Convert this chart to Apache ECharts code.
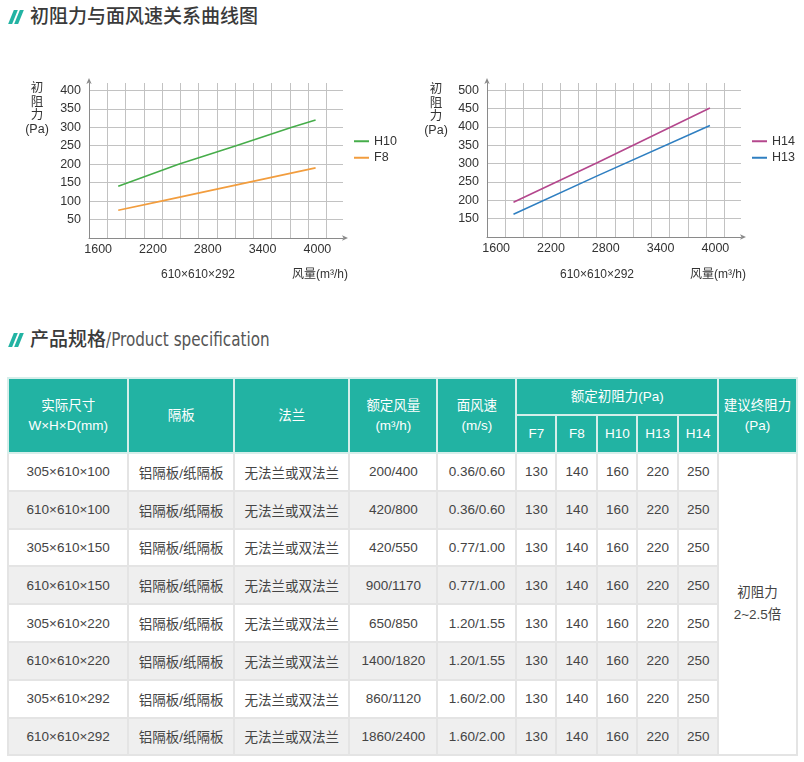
<!DOCTYPE html>
<html><head><meta charset="utf-8">
<script src="https://cdn.jsdelivr.net/npm/echarts@6/dist/echarts.min.js"></script>
<style>
html,body{margin:0;padding:0;background:#fff;}
#page{position:relative;width:804px;height:762px;overflow:hidden;font-family:"Liberation Sans","Noto Sans CJK SC",sans-serif;}
#chart{position:absolute;left:0;top:0;width:804px;height:300px;}
.sec{position:absolute;left:8px;height:24px;line-height:24px;font-family:"Noto Sans CJK SC",sans-serif;font-size:19px;color:#3a3a3a;font-weight:500;white-space:nowrap;}
.bars{display:inline-block;position:relative;width:16px;height:14px;margin-right:6px;vertical-align:-1px;}
.bars i{position:absolute;top:0;width:3.8px;height:14px;background:#22b3a3;transform:skewX(-22deg);}
.bars i:first-child{left:3px}.bars i:last-child{left:9px}
.en{display:inline-block;transform:scaleX(0.89);transform-origin:0 50%;font-family:"Liberation Sans Narrow","DejaVu Sans Condensed",sans-serif;font-weight:400;color:#555;font-size:19px}
#spec{position:absolute;left:7px;top:377px;border-collapse:collapse;table-layout:fixed;width:789px;font-size:13.5px;color:#444;}
#spec td,#spec th{border:2px solid #e4e4e4;text-align:center;padding:0;}
#spec th{background:#22b3a3;color:#fff;font-weight:400;border-color:#d6eeea;line-height:20px;}
#spec tbody tr{height:37.8px}
#spec tbody tr:nth-child(even) td{background:#efefef}
#spec td.merge{background:#fff !important;line-height:22px}
</style></head>
<body>
<div id="page">
  <div class="sec" style="top:3px"><span class="bars"><i></i><i></i></span>初阻力与面风速关系曲线图</div>
  <div id="chart"></div>
  <div class="sec" style="top:326px"><span class="bars"><i></i><i></i></span>产品规格<span class="en">/Product specification</span></div>
  <table id="spec">
    <colgroup>
      <col style="width:120.4px"><col style="width:105.6px"><col style="width:115.4px"><col style="width:88px"><col style="width:79px">
      <col style="width:40px"><col style="width:41px"><col style="width:40px"><col style="width:40.6px"><col style="width:40.4px"><col style="width:78.3px">
    </colgroup>
    <thead id="thead"></thead>
    <tbody id="tbody"></tbody>
  </table>
</div>
<script>
// ---------- chart data ----------
const xTickLabels = [1600, 2200, 2800, 3400, 4000];
const yTickLabels1 = [50, 100, 150, 200, 250, 300, 350, 400];
const yTickLabels2 = [150, 200, 250, 300, 350, 400, 450, 500];
const legend1 = ['H10', 'F8'];
const legend2 = ['H14', 'H13'];
const h10Data = [[1820, 140], [2480, 200], [3110, 250], [3720, 300], [3980, 320]];
const f8Data  = [[1820, 75], [2290, 100], [3230, 150], [3980, 190]];
const h14Data = [[1790, 195], [2700, 302], [3940, 452]];
const h13Data = [[1790, 162], [2700, 266], [3940, 404]];
const sizeNote = '610×610×292';
const xName = '风量(m³/h)';
const yName = '初\n阻\n力\n(Pa)';

// ---------- table data ----------
const headTop = ['实际尺寸<br>W×H×D(mm)', '隔板', '法兰', '额定风量<br>(m³/h)', '面风速<br>(m/s)'];
const headGroup = '额定初阻力(Pa)';
const headGrades = ['F7', 'F8', 'H10', 'H13', 'H14'];
const headLast = '建议终阻力<br>(Pa)';
const sizes = ['305×610×100', '610×610×100', '305×610×150', '610×610×150', '305×610×220', '610×610×220', '305×610×292', '610×610×292'];
const partitions = ['铝隔板/纸隔板', '铝隔板/纸隔板', '铝隔板/纸隔板', '铝隔板/纸隔板', '铝隔板/纸隔板', '铝隔板/纸隔板', '铝隔板/纸隔板', '铝隔板/纸隔板'];
const flanges = ['无法兰或双法兰', '无法兰或双法兰', '无法兰或双法兰', '无法兰或双法兰', '无法兰或双法兰', '无法兰或双法兰', '无法兰或双法兰', '无法兰或双法兰'];
const airflows = ['200/400', '420/800', '420/550', '900/1170', '650/850', '1400/1820', '860/1120', '1860/2400'];
const velocities = ['0.36/0.60', '0.36/0.60', '0.77/1.00', '0.77/1.00', '1.20/1.55', '1.20/1.55', '1.60/2.00', '1.60/2.00'];
const resF7  = [130, 130, 130, 130, 130, 130, 130, 130];
const resF8  = [140, 140, 140, 140, 140, 140, 140, 140];
const resH10 = [160, 160, 160, 160, 160, 160, 160, 160];
const resH13 = [220, 220, 220, 220, 220, 220, 220, 220];
const resH14 = [250, 250, 250, 250, 250, 250, 250, 250];
const finalRes = '初阻力<br>2~2.5倍';

// ---------- build table ----------
(function(){
  let h = '<tr style="height:37px">';
  headTop.forEach(t => h += '<th rowspan="2">' + t + '</th>');
  h += '<th colspan="5">' + headGroup + '</th><th rowspan="2">' + headLast + '</th></tr><tr style="height:38px">';
  headGrades.forEach(g => h += '<th>' + g + '</th>');
  h += '</tr>';
  document.getElementById('thead').innerHTML = h;
  let b = '';
  sizes.forEach((s, i) => {
    b += '<tr><td>' + s + '</td><td>' + partitions[i] + '</td><td>' + flanges[i] + '</td><td>' + airflows[i] + '</td><td>' + velocities[i] + '</td>' +
      '<td>' + resF7[i] + '</td><td>' + resF8[i] + '</td><td>' + resH10[i] + '</td><td>' + resH13[i] + '</td><td>' + resH14[i] + '</td>';
    if (i === 0) b += '<td class="merge" rowspan="' + sizes.length + '">' + finalRes + '</td>';
    b += '</tr>';
  });
  document.getElementById('tbody').innerHTML = b;
})();

// ---------- chart ----------
const FONT = 'Liberation Sans, Noto Sans CJK SC, sans-serif';
const GRID_COLOR = '#c2c2c2';
const AXIS_COLOR = '#8a8a8a';
const TXT = '#333';
const arrowLine = {show: true, lineStyle: {color: AXIS_COLOR, width: 1}, symbol: ['none', 'arrow'], symbolSize: [4, 6], symbolOffset: [0, 5]};

function xAxes(gridIndex) {
  return [
    {type: 'value', gridIndex: gridIndex, min: 1500, max: 4280, interval: 200, position: 'bottom',
     axisLine: arrowLine, axisTick: {show: false}, axisLabel: {show: false},
     splitLine: {show: true, showMaxLine: false, lineStyle: {color: GRID_COLOR, width: 1}}},
    {type: 'value', gridIndex: gridIndex, min: 1500, max: 4280, interval: 100, position: 'bottom',
     axisLine: {show: false}, axisTick: {show: false}, splitLine: {show: false},
     axisLabel: {margin: 5, color: TXT, fontSize: 12.5, fontFamily: FONT,
       formatter: v => xTickLabels.includes(Math.round(v)) ? String(Math.round(v)) : ''}}
  ];
}
function yAxis(gridIndex, min, max, labels) {
  return {type: 'value', gridIndex: gridIndex, min: min, max: max, interval: 50,
    axisLine: arrowLine, axisTick: {show: false},
    axisLabel: {margin: 8, color: TXT, fontSize: 12.5, fontFamily: FONT,
      formatter: v => labels.includes(Math.round(v)) ? String(Math.round(v)) : ''},
    splitLine: {show: true, showMaxLine: false, lineStyle: {color: GRID_COLOR, width: 1}}};
}
function lineSeries(name, data, color, xi, yi) {
  return {type: 'line', name: name, data: data, xAxisIndex: xi, yAxisIndex: yi, showSymbol: false,
    symbol: 'none', lineStyle: {color: color, width: 1.6}, itemStyle: {color: color}, animation: false};
}
function legend(names, left) {
  return {data: names, orient: 'vertical', left: left, top: 135, padding: 0, icon: 'rect', itemWidth: 15, itemHeight: 2,
    itemGap: 4, textStyle: {color: TXT, fontSize: 12.5, fontFamily: FONT}};
}
function txt(x, y, text, extra) {
  return Object.assign({type: 'text', x: x, y: y, silent: true,
    style: Object.assign({text: text, fill: TXT, font: '12px ' + FONT, textAlign: 'center', textVerticalAlign: 'middle'}, extra || {})});
}

const chart = echarts.init(document.getElementById('chart'), null, {renderer: 'canvas'});
chart.setOption({
  animation: false,
  textStyle: {fontFamily: FONT},
  grid: [
    {left: 89, top: 83, width: 254, height: 155},
    {left: 487, top: 83, width: 254, height: 154}
  ],
  xAxis: xAxes(0).concat(xAxes(1)),
  yAxis: [yAxis(0, 0, 420, yTickLabels1), yAxis(1, 100, 520, yTickLabels2)],
  legend: [legend(legend1, 354), legend(legend2, 752)],
  series: [
    lineSeries('H10', h10Data, '#46ad4a', 0, 0),
    lineSeries('F8', f8Data, '#f29d3e', 0, 0),
    lineSeries('H14', h14Data, '#b4478d', 2, 1),
    lineSeries('H13', h13Data, '#2f7fc1', 2, 1)
  ],
  graphic: [
    txt(37, 82, yName, {textVerticalAlign: 'top', lineHeight: 13.5, font: '12.5px ' + FONT}),
    txt(436, 83, yName, {textVerticalAlign: 'top', lineHeight: 13.5, font: '12.5px ' + FONT}),
    txt(198, 275, sizeNote),
    txt(597, 275, sizeNote),
    txt(320, 275, xName),
    txt(718, 275, xName)
  ]
});
</script>
</body></html>
